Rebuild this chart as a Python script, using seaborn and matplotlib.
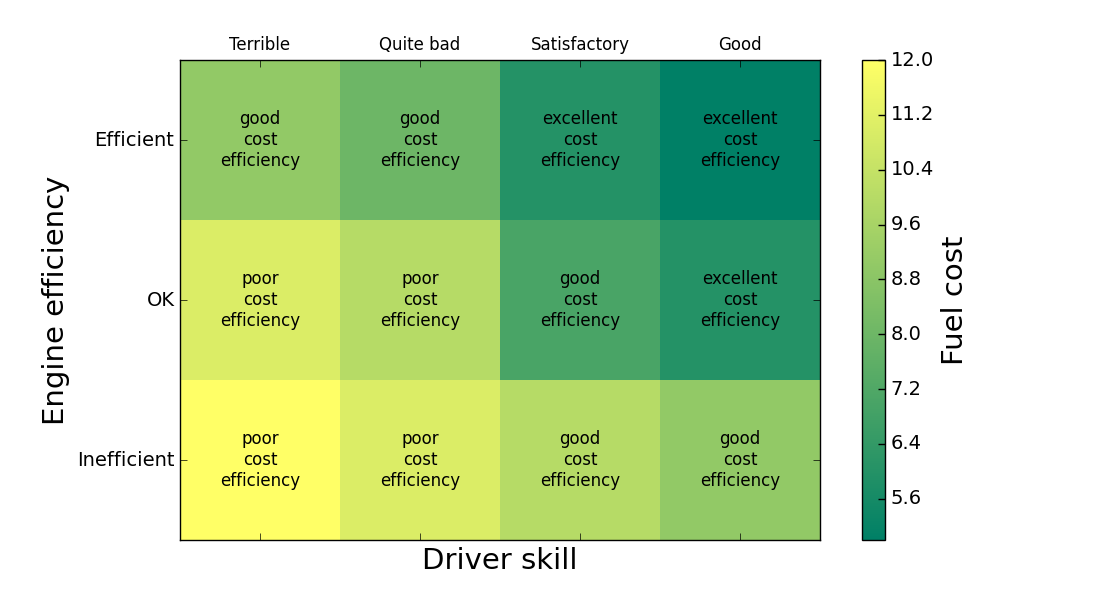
import numpy as np
import pandas as pd
import seaborn as sns
import matplotlib
matplotlib.use('Agg')
import matplotlib.pyplot as plt

plt.style.use('classic')
plt.rcParams['font.family'] = ['DejaVu Sans']

driver_skill = ['Terrible', 'Quite bad', 'Satisfactory', 'Good']
engine_efficiency = ['Efficient', 'OK', 'Inefficient']

# fuel cost, one row per engine efficiency
fuel_efficient = [9.0, 8.0, 6.0, 5.0]
fuel_ok = [11.0, 10.0, 7.0, 6.0]
fuel_inefficient = [12.0, 11.0, 10.0, 9.0]

# rating text in each cell
rating_efficient = ['good', 'good', 'excellent', 'excellent']
rating_ok = ['poor', 'poor', 'good', 'excellent']
rating_inefficient = ['poor', 'poor', 'good', 'good']

cbar_ticks = [5.6, 6.4, 7.2, 8.0, 8.8, 9.6, 10.4, 11.2, 12.0]

df = pd.DataFrame([fuel_efficient, fuel_ok, fuel_inefficient],
                  index=engine_efficiency, columns=driver_skill)
ratings = [rating_efficient, rating_ok, rating_inefficient]
annot = np.array([[r + '\ncost\nefficiency' for r in row] for row in ratings])

fig = plt.figure(figsize=(11, 6), dpi=100, facecolor='white')
ax = fig.add_axes([0.1636, 0.1, 0.5819, 0.8])
cax = fig.add_axes([0.7836, 0.1, 0.021, 0.8])

sns.heatmap(df, ax=ax, cbar_ax=cax, cmap='summer', vmin=5, vmax=12,
            annot=annot, fmt='', annot_kws={'color': 'black', 'fontsize': 12},
            cbar_kws={'ticks': cbar_ticks})

for s in ax.spines.values():
    s.set_visible(True)
    s.set_color('black')
ax.tick_params(axis='x', top=True, bottom=True, labeltop=True, labelbottom=False,
               direction='in', length=5, labelsize=12)
ax.tick_params(axis='y', left=True, right=True, direction='in', length=5,
               labelsize=14)
ax.set_yticklabels(engine_efficiency, rotation=0)
ax.set_xticklabels(driver_skill, rotation=0)
ax.set_xlabel('Driver skill', fontsize=21)
ax.set_ylabel('Engine efficiency', fontsize=21)

cb = ax.collections[0].colorbar
cb.outline.set_visible(True)
cb.outline.set_linewidth(1)
cb.outline.set_edgecolor('black')
cb.ax.tick_params(labelsize=14, direction='in', length=5, width=1,
                  color='black', right=True)
for t in cb.ax.yaxis.get_ticklines():
    t.set_zorder(5)
cb.set_label('Fuel cost', fontsize=21)

fig.savefig('out.png', dpi=100, facecolor='white')
